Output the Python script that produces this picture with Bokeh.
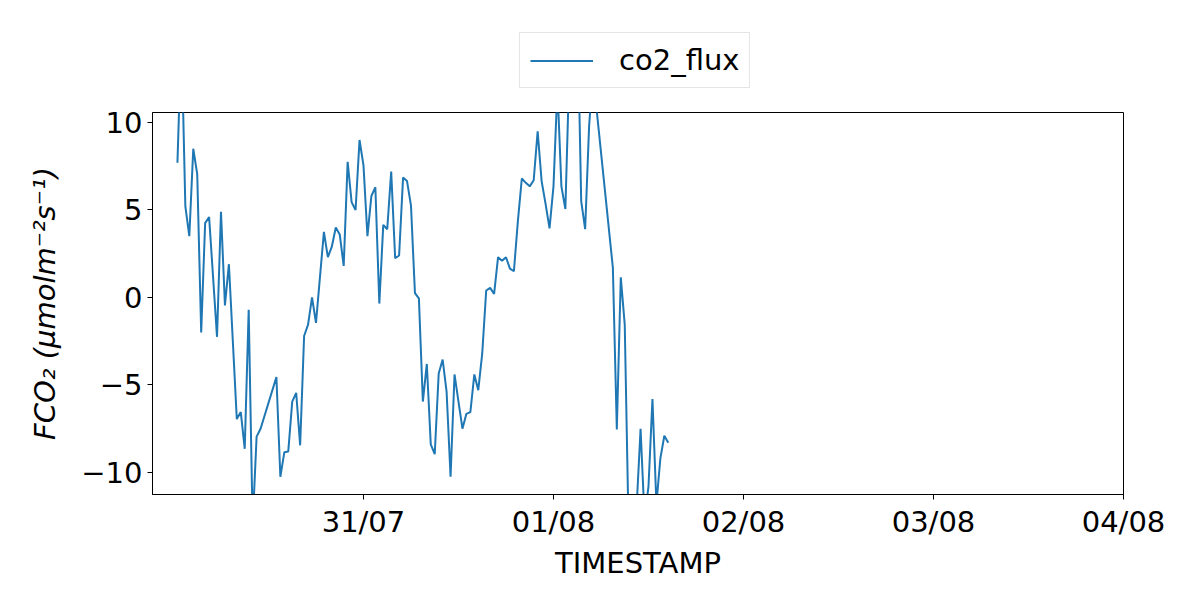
import datetime as dt
from bokeh.plotting import figure
from bokeh.layouts import column
from bokeh.models import (ColumnDataSource, Range1d, FixedTicker, DatetimeTickFormatter,
                          Legend, LegendItem)
from bokeh.embed import file_html
from bokeh.resources import INLINE

# ---- data (half-hourly slots counted from 30/07 00:30; missing rows are skipped) ----
start_time = dt.datetime(2023, 7, 30, 0, 30)
half_hour_slot = [0, 1, 2, 3, 4, 5, 6, 7, 8, 10, 11, 12, 13, 15, 16, 17, 18, 19, 20, 21,
                  25, 26, 27, 28, 29, 30, 31, 32, 33, 34, 35, 37, 38, 39, 40, 41, 42, 43,
                  44, 45, 46, 47, 48, 49, 50, 51, 52, 53, 54, 55, 56, 57, 58, 59, 60, 61,
                  62, 63, 64, 65, 66, 67, 68, 69, 70, 71, 72, 73, 74, 75, 76, 77, 78, 79,
                  80, 81, 82, 83, 84, 85, 86, 87, 88, 89, 90, 91, 92, 93, 94, 95, 96, 97,
                  98, 99, 100, 101, 102, 103, 104, 105, 106, 110, 111, 112, 113, 114, 115,
                  116, 117, 118, 119, 120, 121, 122, 123, 124]
co2_flux = [7.7, 15.0, 5.2, 3.5, 8.5, 7.05, -2.0, 4.25, 4.6, -2.25, 4.9, -0.45, 1.9, -6.95,
            -6.55, -8.65, -0.7, -13.0, -7.95, -7.5,
            -4.55, -10.25, -8.85, -8.8, -5.95, -5.45, -8.45, -2.2, -1.55, 0.0, -1.45, 3.75,
            2.3, 2.9, 4.0, 3.6, 1.8, 7.75,
            5.45, 5.0, 9.0, 7.55, 3.5, 5.8, 6.3, -0.35, 4.15, 3.9, 7.2, 2.25, 2.4, 6.85,
            6.65, 5.25, 0.25, -0.05,
            -5.95, -3.8, -8.4, -8.95, -4.35, -3.55, -5.4, -10.25, -4.4, -5.95, -7.5, -6.65,
            -6.55, -4.4, -5.3, -3.2, 0.4, 0.55,
            0.2, 2.3, 2.1, 2.3, 1.65, 1.5, 4.35, 6.8, 6.55, 6.35, 6.7, 9.5, 6.65, 5.35, 3.95,
            6.35, 12.0, 6.35,
            5.05, 13.0, 16.0, 17.0, 5.5, 3.9, 9.8, 13.0, 10.5, 1.7, -7.55, 1.15, -1.55,
            -13.5, -12.5,
            -12.0, -7.5, -12.6, -10.8, -5.8, -11.8, -9.2, -7.9, -8.3]
series_name = "co2_flux"
x_tick_dates = [dt.datetime(2023, 7, 31), dt.datetime(2023, 8, 1), dt.datetime(2023, 8, 2),
                dt.datetime(2023, 8, 3), dt.datetime(2023, 8, 4)]
y_ticks = [-10, -5, 0, 5, 10]
y_tick_labels = ["\u221210", "\u22125", "0", "5", "10"]
x_start = dt.datetime(2023, 7, 29, 21, 21)
x_end = dt.datetime(2023, 8, 4)
y_start, y_end = -11.26, 10.57

times = [start_time + dt.timedelta(minutes=30 * k) for k in half_hour_slot]
src = ColumnDataSource(data=dict(t=times, v=co2_flux))

EPOCH = dt.datetime(1970, 1, 1)
def to_ms(d):
    return (d - EPOCH).total_seconds() * 1000.0

FONT = "DejaVu Sans"
FS = "29px"
LINE_COLOR = "#1f77b4"
W = 1184
TOP_H = 90

# ---- legend strip (above the axes); its key line sits outside its own ranges ----
top = figure(width=W, height=TOP_H, x_range=Range1d(0, 1), y_range=Range1d(0, 1),
             output_backend="svg", toolbar_location=None,
             min_border_left=0, min_border_right=0, min_border_top=0, min_border_bottom=0)
top.axis.visible = False
top.grid.visible = False
top.outline_line_color = None
top.background_fill_color = "white"
top.border_fill_color = "white"
key_src = ColumnDataSource(data=dict(x=[5, 6], y=[5, 6]))
key = top.line("x", "y", source=key_src, line_color=LINE_COLOR, line_width=2)
legend = Legend(items=[LegendItem(label=series_name, renderers=[key])],
                location=(367, 2), orientation="horizontal")
legend.margin = 0
legend.padding = 10
legend.glyph_width = 63
legend.glyph_height = 27
legend.label_height = 27
legend.label_standoff = 26
legend.label_text_font = FONT
legend.label_text_font_size = FS
legend.label_text_color = "black"
legend.border_line_color = "#cccccc"
legend.border_line_width = 1
legend.background_fill_color = "white"
top.add_layout(legend, "center")

# ---- main axes ----
p = figure(width=W, height=584 - TOP_H, x_axis_type="datetime",
           x_range=Range1d(x_start, x_end), y_range=Range1d(y_start, y_end),
           output_backend="svg", toolbar_location=None,
           min_border_left=152, min_border_right=61, min_border_top=22, min_border_bottom=90)
p.background_fill_color = "white"
p.border_fill_color = "white"
p.outline_line_color = "black"
p.outline_line_width = 1
p.xgrid.visible = False
p.ygrid.visible = False

r = p.line("t", "v", source=src, line_color=LINE_COLOR, line_width=2)

for ax in (p.xaxis[0], p.yaxis[0]):
    ax.axis_line_color = "black"
    ax.major_tick_line_color = "black"
    ax.major_tick_out = 5
    ax.major_tick_in = 0
    ax.minor_tick_out = 0
    ax.minor_tick_in = 0
    ax.major_label_text_font = FONT
    ax.major_label_text_font_size = FS
    ax.major_label_text_color = "black"
    ax.major_label_standoff = 5
    ax.axis_label_text_font = FONT
    ax.axis_label_text_font_size = FS
    ax.axis_label_text_color = "black"

p.xaxis.ticker = FixedTicker(ticks=[to_ms(d) for d in x_tick_dates])
fmt = "%d/%m"
p.xaxis.formatter = DatetimeTickFormatter(microseconds=fmt, milliseconds=fmt, seconds=fmt,
                                          minsec=fmt, minutes=fmt, hourmin=fmt, hours=fmt,
                                          days=fmt, months=fmt, years=fmt)
p.xaxis.axis_label = "TIMESTAMP"
p.xaxis.axis_label_text_font_style = "normal"
p.xaxis.axis_label_standoff = 4

p.yaxis.ticker = FixedTicker(ticks=y_ticks)
p.yaxis.major_label_overrides = {t: lab for t, lab in zip(y_ticks, y_tick_labels)}
p.yaxis.axis_label = "FCO\u2082 (\u03bcmolm\u207b\u00b2s\u207b\u00b9)"
p.yaxis.axis_label_text_font_style = "italic"
p.yaxis.axis_label_standoff = 16

layout = column(top, p, spacing=0)
open("out.html", "w").write(file_html(layout, INLINE))
